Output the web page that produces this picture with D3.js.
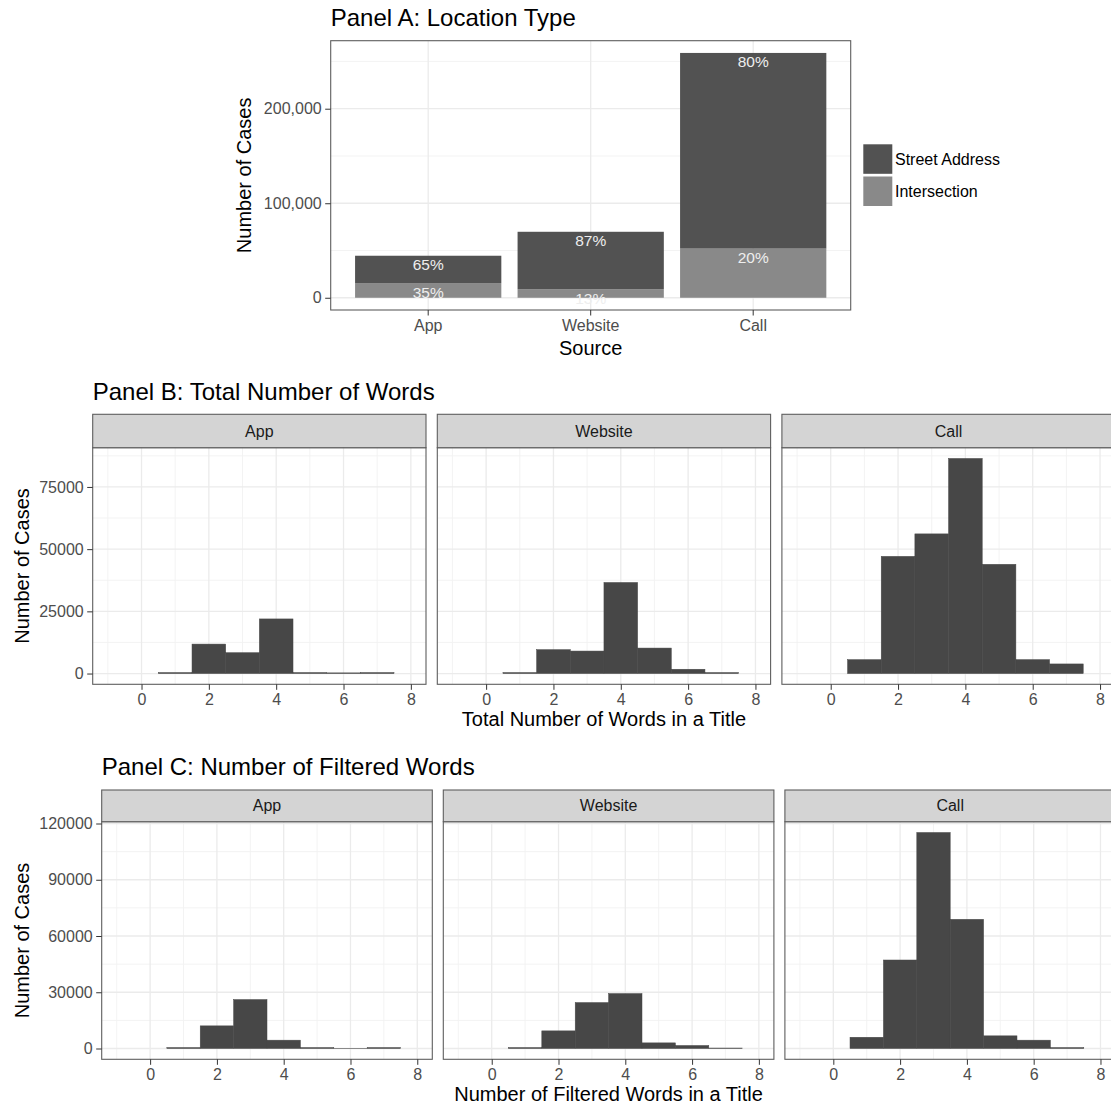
<!DOCTYPE html>
<html>
<head>
<meta charset="utf-8">
<script src="https://cdn.jsdelivr.net/npm/d3@7"></script>
<style>
  html, body { margin: 0; padding: 0; background: #ffffff; }
  svg { display: block; font-family: "Liberation Sans", Arial, Helvetica, sans-serif; }
</style>
</head>
<body>
<svg id="chart" width="1111" height="1111"></svg>
<script>
// ---- Panel A data: cases by source and location type ----
const sources = ["App", "Website", "Call"];
const locationTypes = ["Street Address", "Intersection"];
const streetCounts = [28900, 60700, 207000];
const intersectionCounts = [15550, 9100, 52000];
const yTicksA = [0, 100000, 200000];

// ---- Panels B and C: histograms of words per title (bins centred on 1..7) ----
const wordBins = [1, 2, 3, 4, 5, 6, 7];
const totalWordsApp = [400, 11840, 8380, 21950, 400, 270, 400];
const totalWordsWebsite = [400, 9600, 9040, 36600, 10240, 1730, 400];
const totalWordsCall = [5590, 47100, 56130, 86450, 43900, 5590, 3860];
const filteredWordsApp = [500, 12070, 26100, 4440, 500, 100, 500];
const filteredWordsWebsite = [500, 9400, 24500, 29300, 3000, 1600, 250];
const filteredWordsCall = [6000, 47200, 115200, 68900, 6750, 4440, 500];
const xTicksHist = [0, 2, 4, 6, 8];
const yTicksB = [0, 25000, 50000, 75000];
const yTicksC = [0, 30000, 60000, 90000, 120000];

// ---- styling ----
const COL_STREET = "#525252";
const COL_INTER = "#898989";
const COL_HIST = "#474747";
const GRID_MAJOR = "#ebebeb";
const GRID_MINOR = "#f2f2f2";
const BORDER = "#5e5e5e";
const TICK_TEXT = "#4d4d4d";
const STRIP_FILL = "#d4d4d4";
const FS_TICK = 16, FS_AXIS = 20, FS_TITLE = 24;

const svg = d3.select("#chart");

function expand(lo, hi, f = 0.05) {
  const d = (hi - lo) * f;
  return [lo - d, hi + d];
}
function midpoints(ticks) {
  const m = [];
  for (let i = 0; i < ticks.length - 1; i++) m.push((ticks[i] + ticks[i + 1]) / 2);
  return m;
}
function styleAxis(g) {
  g.select(".domain").remove();
  g.selectAll(".tick line").attr("stroke", "#333333").attr("stroke-width", 1);
  g.selectAll(".tick text").attr("fill", TICK_TEXT).attr("font-size", FS_TICK);
}

// ================= Panel A =================
(function panelA() {
  const L = 330.7, R = 850.7, T = 40.7, B = 310;
  const totals = sources.map((s, i) => streetCounts[i] + intersectionCounts[i]);
  const yMax = d3.max(totals);
  const y = d3.scaleLinear().domain(expand(0, yMax)).range([B, T]);
  const x = d3.scaleBand().domain(sources).range([L, R]).paddingInner(0.1).paddingOuter(0.15);

  const g = svg.append("g");
  // grid
  const yMinor = midpoints(yTicksA).concat([250000]);
  g.selectAll(".gmin").data(yMinor).join("line")
    .attr("x1", L).attr("x2", R).attr("y1", d => y(d)).attr("y2", d => y(d))
    .attr("stroke", GRID_MINOR).attr("stroke-width", 0.9);
  g.selectAll(".gmaj").data(yTicksA).join("line")
    .attr("x1", L).attr("x2", R).attr("y1", d => y(d)).attr("y2", d => y(d))
    .attr("stroke", GRID_MAJOR).attr("stroke-width", 1.3);
  g.selectAll(".gx").data(sources).join("line")
    .attr("x1", d => x(d) + x.bandwidth() / 2).attr("x2", d => x(d) + x.bandwidth() / 2)
    .attr("y1", T).attr("y2", B)
    .attr("stroke", GRID_MAJOR).attr("stroke-width", 1.3);

  // stacked bars: intersection at the bottom, street address on top
  const rows = sources.map((s, i) => ({
    source: s,
    segs: [
      { type: "Intersection", y0: 0, y1: intersectionCounts[i], v: intersectionCounts[i], total: totals[i] },
      { type: "Street Address", y0: intersectionCounts[i], y1: totals[i], v: streetCounts[i], total: totals[i] }
    ]
  }));
  const segs = rows.flatMap(r => r.segs.map(s => Object.assign({ source: r.source }, s)));
  g.selectAll(".bar").data(segs).join("rect")
    .attr("x", d => x(d.source)).attr("width", x.bandwidth())
    .attr("y", d => y(d.y1)).attr("height", d => y(d.y0) - y(d.y1))
    .attr("fill", d => d.type === "Street Address" ? COL_STREET : COL_INTER);
  g.selectAll(".lbl").data(segs).join("text")
    .attr("x", d => x(d.source) + x.bandwidth() / 2)
    .attr("y", d => y(d.y1) + 14.5)
    .attr("text-anchor", "middle")
    .attr("font-size", 15.5)
    .attr("fill", "#eeeeee")
    .text(d => Math.round(d.v / d.total * 100) + "%");

  // border
  g.append("rect").attr("x", L).attr("y", T).attr("width", R - L).attr("height", B - T)
    .attr("fill", "none").attr("stroke", BORDER).attr("stroke-width", 1.1);

  // axes
  const fmt = d3.format(",");
  const ay = g.append("g").attr("transform", `translate(${L},0)`)
    .call(d3.axisLeft(y).tickValues(yTicksA).tickFormat(fmt).tickSize(5.5).tickPadding(3.5));
  styleAxis(ay);
  const ax = g.append("g").attr("transform", `translate(0,${B})`)
    .call(d3.axisBottom(x).tickSize(5.5).tickPadding(4));
  styleAxis(ax);

  g.append("text").attr("x", (L + R) / 2).attr("y", B + 45).attr("text-anchor", "middle")
    .attr("font-size", FS_AXIS).attr("fill", "#000").text("Source");
  g.append("text").attr("transform", `translate(251,${(T + B) / 2}) rotate(-90)`)
    .attr("text-anchor", "middle").attr("font-size", FS_AXIS).attr("fill", "#000").text("Number of Cases");
  g.append("text").attr("x", L).attr("y", 26).attr("font-size", FS_TITLE).attr("fill", "#000")
    .text("Panel A: Location Type");

  // legend
  const legendColors = [COL_STREET, COL_INTER];
  const lg = g.append("g");
  locationTypes.forEach((t, i) => {
    const ky = 144.3 + i * 32.2;
    lg.append("rect").attr("x", 863.3).attr("y", ky).attr("width", 29).attr("height", 29.5)
      .attr("fill", legendColors[i]);
    lg.append("text").attr("x", 895).attr("y", ky + 14.75).attr("dy", "0.35em")
      .attr("font-size", FS_TICK).attr("fill", "#000").text(t);
  });
})();

// ================= Faceted histograms =================
function histogramPanel(cfg) {
  const { title, titleY, stripTop, panelTop, panelBottom, lefts, width, series, yTicks, xTitle, yTitleX } = cfg;
  const g = svg.append("g");
  const yMax = d3.max(series.flatMap(s => s.values));
  const y = d3.scaleLinear().domain(expand(0, yMax)).range([panelBottom, panelTop]);
  const yMinor = midpoints(yTicks).concat([yTicks[yTicks.length - 1] + (yTicks[1] - yTicks[0]) / 2])
    .filter(v => y(v) >= panelTop);
  const xMinor = [-1, 1, 3, 5, 7];

  series.forEach((s, k) => {
    const L = lefts[k], R = L + width;
    const x = d3.scaleLinear().domain(expand(-1, 8)).range([L, R]);
    const p = g.append("g");
    // grid
    p.selectAll(".ymin").data(yMinor).join("line")
      .attr("x1", L).attr("x2", R).attr("y1", d => y(d)).attr("y2", d => y(d))
      .attr("stroke", GRID_MINOR).attr("stroke-width", 0.9);
    p.selectAll(".xmin").data(xMinor).join("line")
      .attr("x1", d => x(d)).attr("x2", d => x(d)).attr("y1", panelTop).attr("y2", panelBottom)
      .attr("stroke", GRID_MINOR).attr("stroke-width", 0.9);
    p.selectAll(".ymaj").data(yTicks).join("line")
      .attr("x1", L).attr("x2", R).attr("y1", d => y(d)).attr("y2", d => y(d))
      .attr("stroke", GRID_MAJOR).attr("stroke-width", 1.3);
    p.selectAll(".xmaj").data(xTicksHist).join("line")
      .attr("x1", d => x(d)).attr("x2", d => x(d)).attr("y1", panelTop).attr("y2", panelBottom)
      .attr("stroke", GRID_MAJOR).attr("stroke-width", 1.3);
    // bars (thin same-colour stroke hides seams between adjacent bins)
    p.selectAll(".bar").data(wordBins.map((b, i) => ({ b, v: s.values[i] }))).join("rect")
      .attr("x", d => x(d.b - 0.5)).attr("width", d => x(d.b + 0.5) - x(d.b - 0.5))
      .attr("y", d => y(d.v)).attr("height", d => y(0) - y(d.v))
      .attr("fill", COL_HIST).attr("stroke", COL_HIST).attr("stroke-width", 0.5);
    // border
    p.append("rect").attr("x", L).attr("y", panelTop).attr("width", width).attr("height", panelBottom - panelTop)
      .attr("fill", "none").attr("stroke", BORDER).attr("stroke-width", 1.1);
    // strip
    p.append("rect").attr("x", L).attr("y", stripTop).attr("width", width).attr("height", panelTop - stripTop)
      .attr("fill", STRIP_FILL).attr("stroke", BORDER).attr("stroke-width", 1.1);
    p.append("text").attr("x", L + width / 2).attr("y", (stripTop + panelTop) / 2).attr("dy", "0.35em")
      .attr("text-anchor", "middle").attr("font-size", FS_TICK).attr("fill", "#1a1a1a").text(s.name);
    // x axis
    const ax = p.append("g").attr("transform", `translate(0,${panelBottom})`)
      .call(d3.axisBottom(x).tickValues(xTicksHist).tickFormat(d3.format("d")).tickSize(5.5).tickPadding(4));
    styleAxis(ax);
    if (k === 0) {
      const ay = p.append("g").attr("transform", `translate(${L},0)`)
        .call(d3.axisLeft(y).tickValues(yTicks).tickFormat(d3.format("d")).tickSize(5.5).tickPadding(3.5));
      styleAxis(ay);
    }
  });

  const fullL = lefts[0], fullR = lefts[lefts.length - 1] + width;
  g.append("text").attr("x", (fullL + fullR) / 2).attr("y", panelBottom + 42).attr("text-anchor", "middle")
    .attr("font-size", FS_AXIS).attr("fill", "#000").text(xTitle);
  g.append("text").attr("transform", `translate(${yTitleX},${(panelTop + panelBottom) / 2}) rotate(-90)`)
    .attr("text-anchor", "middle").attr("font-size", FS_AXIS).attr("fill", "#000").text("Number of Cases");
  g.append("text").attr("x", fullL).attr("y", titleY).attr("font-size", FS_TITLE).attr("fill", "#000").text(title);
}

histogramPanel({
  title: "Panel B: Total Number of Words",
  titleY: 400,
  stripTop: 414.3, panelTop: 447.7, panelBottom: 684.3,
  lefts: [92.7, 437.3, 781.9], width: 333.3,
  series: [
    { name: "App", values: totalWordsApp },
    { name: "Website", values: totalWordsWebsite },
    { name: "Call", values: totalWordsCall }
  ],
  yTicks: yTicksB,
  xTitle: "Total Number of Words in a Title",
  yTitleX: 28.5
});

histogramPanel({
  title: "Panel C: Number of Filtered Words",
  titleY: 775,
  stripTop: 790, panelTop: 821.7, panelBottom: 1059.3,
  lefts: [101.7, 443.3, 784.9], width: 330.6,
  series: [
    { name: "App", values: filteredWordsApp },
    { name: "Website", values: filteredWordsWebsite },
    { name: "Call", values: filteredWordsCall }
  ],
  yTicks: yTicksC,
  xTitle: "Number of Filtered Words in a Title",
  yTitleX: 28.5
});
</script>
</body>
</html>
